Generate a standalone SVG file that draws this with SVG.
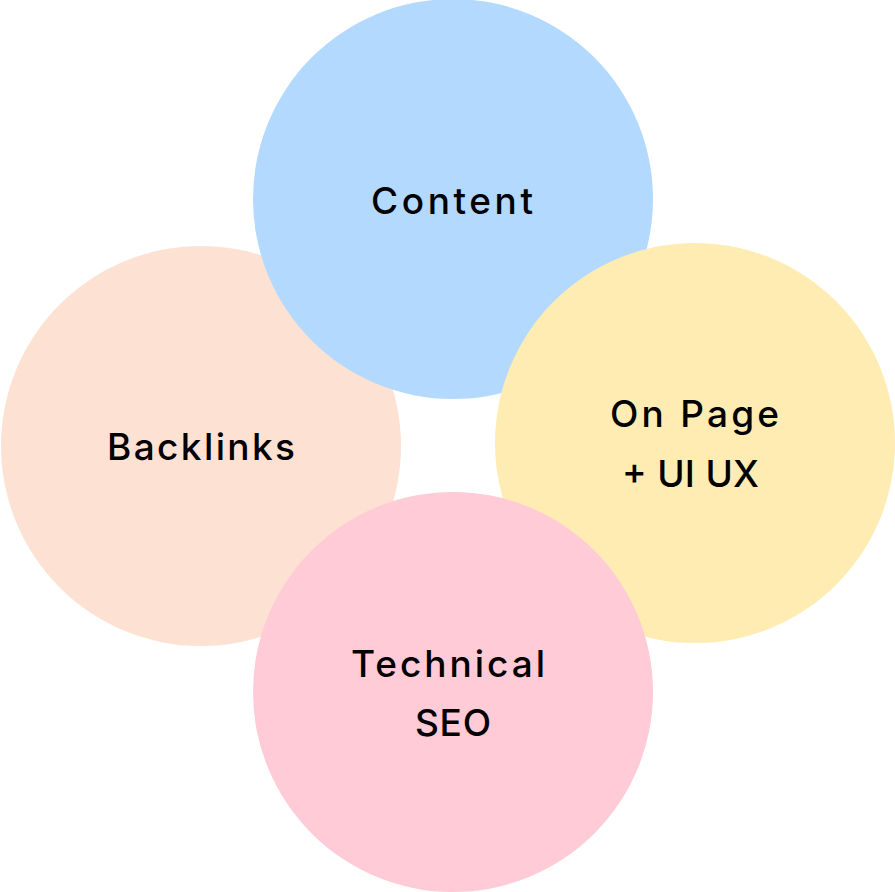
<svg xmlns="http://www.w3.org/2000/svg" width="895" height="892" viewBox="0 0 895 892">
<style>
text{font-family:"Inter","Noto Sans","Liberation Sans",sans-serif;font-size:37px;font-weight:500;fill:#000;text-anchor:middle}
</style>
<rect width="895" height="892" fill="#fff"/>
<g id="backlinks"><circle cx="201" cy="446" r="200" fill="#FDE1D3"/><text x="201" y="460" textLength="188" lengthAdjust="spacing">Backlinks</text></g>
<g id="content"><circle cx="453" cy="199" r="200" fill="#B3D9FF"/><text x="452" y="214" textLength="162" lengthAdjust="spacing">Content</text></g>
<g id="onpage"><circle cx="695" cy="443" r="200" fill="#FEECB3"/><text x="694.5" y="427" textLength="169" lengthAdjust="spacing">On Page</text><text x="690.5" y="487" textLength="137" lengthAdjust="spacing">+ UI UX</text></g>
<g id="technical"><circle cx="453" cy="692" r="200" fill="#FECBD6"/><text x="448" y="677" textLength="194" lengthAdjust="spacing">Technical</text><text x="453" y="736" textLength="76" lengthAdjust="spacing">SEO</text></g>
<g id="connectors"></g>
</svg>
